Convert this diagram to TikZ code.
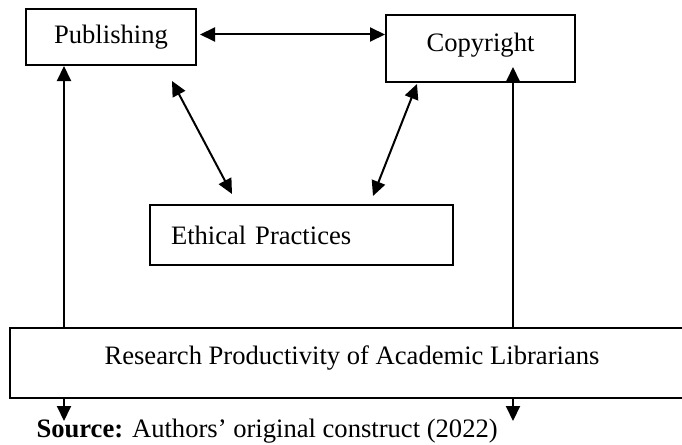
\documentclass[tikz,border=0pt]{standalone}
\usepackage{fontspec}
\setmainfont{Liberation Serif}
\usetikzlibrary{arrows.meta,calc}
\tikzset{
  box/.style={draw, line width=2pt, rectangle, inner sep=0pt},
  arr/.style={line width=2pt, -{Triangle[length=15pt,width=14pt]}},
  biarr/.style={line width=2pt, {Triangle[length=15pt,width=14pt]}-{Triangle[length=15pt,width=14pt]}}
}
\begin{document}
\begin{tikzpicture}[x=1pt, y=-1pt, font=\fontsize{26.6pt}{32pt}\selectfont]
  \useasboundingbox (0,0) rectangle (682,444);
  \clip (0,0) rectangle (682,444);
  % boxes
  \node[box, minimum width=170pt, minimum height=56pt] (pub) at (111,37) {Publishing};
  \node[box, minimum width=189pt, minimum height=67pt, text height=18pt, text depth=11pt] (cr) at (480.5,48.5) {Copyright};
  \node[box, text width=261pt, inner xsep=21pt, align=left, minimum height=60pt] (eth) at (301.5,235) {Ethical Practices};
  \node[box, minimum width=684pt, minimum height=70pt, text height=18pt, text depth=15pt] (big) at (352,363) {Research Productivity of Academic Librarians};
  \node[anchor=base west] (src) at (33,437) {\textbf{Source:} Authors’ original construct (2022)};
  % links
  \draw[biarr] ($(pub.east)+(3,-2.5)$) -- ($(cr.west)+(0,-14)$);
  \draw[biarr] ($(pub.south)+(61,15)$) -- ($(eth.north)+(-69.5,-10)$);
  \draw[biarr] ($(cr.south)+(-63.5,1)$) -- ($(eth.north)+(71.5,-8)$);
  \draw[arr] ([xshift=-47pt]pub.south |- big.north) -- ([xshift=-47pt]pub.south);
  \draw[arr] ([xshift=32.5pt]cr.south |- big.north) -- ([xshift=32.5pt,yshift=16pt]cr.south);
  \draw[arr] ([xshift=-47pt]pub.south |- big.south) -- ++(0,22);
  \draw[arr] ([xshift=32.5pt]cr.south |- big.south) -- ++(0,22);
\end{tikzpicture}
\end{document}
